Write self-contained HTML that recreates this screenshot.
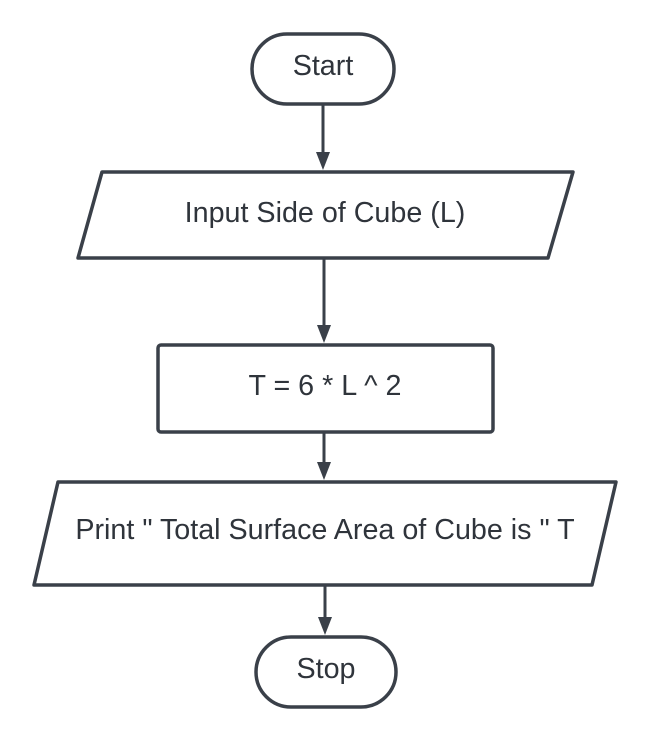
<!DOCTYPE html>
<html><head><meta charset="utf-8"><style>
html,body{margin:0;padding:0;background:#fff;}
svg{display:block;}
text{font-family:"Liberation Sans",sans-serif;font-size:28.7px;fill:#2f343b;text-anchor:middle;dominant-baseline:central;}
.s{fill:#fff;stroke:#3a4049;stroke-width:3.5;stroke-linejoin:round;}
.l{stroke:#3a4049;stroke-width:3;}
.h{fill:#3a4049;}
</style></head><body>
<svg width="652" height="742" viewBox="0 0 652 742">
<g>
<rect class="s" x="252" y="34" width="142" height="70" rx="35"/>
<text x="323" y="66">Start</text></g>
<g><line class="l" x1="323" y1="104" x2="323" y2="154"/><polygon class="h" points="316,152 330,152 323,170"/></g>
<g>
<polygon class="s" points="102,172 573,172 548,258 78,258"/>
<text x="325" y="213">Input Side of Cube (L)</text></g>
<g><line class="l" x1="324" y1="258" x2="324" y2="327"/><polygon class="h" points="317,325 331,325 324,343"/></g>
<g>
<rect class="s" x="158" y="345" width="335" height="87" rx="3"/>
<text x="325" y="386">T = 6 * L ^ 2</text></g>
<g><line class="l" x1="324" y1="432" x2="324" y2="464"/><polygon class="h" points="317,462 331,462 324,480"/></g>
<g>
<polygon class="s" points="58,482 616,482 592,585 34,585"/>
<text x="325" y="530">Print " Total Surface Area of Cube is " T</text></g>
<g><line class="l" x1="325" y1="585" x2="325" y2="619"/><polygon class="h" points="318,617 332,617 325,635"/></g>
<g>
<rect class="s" x="256" y="637" width="140" height="70" rx="35"/>
<text x="326" y="669">Stop</text></g>
</svg>
</body></html>
